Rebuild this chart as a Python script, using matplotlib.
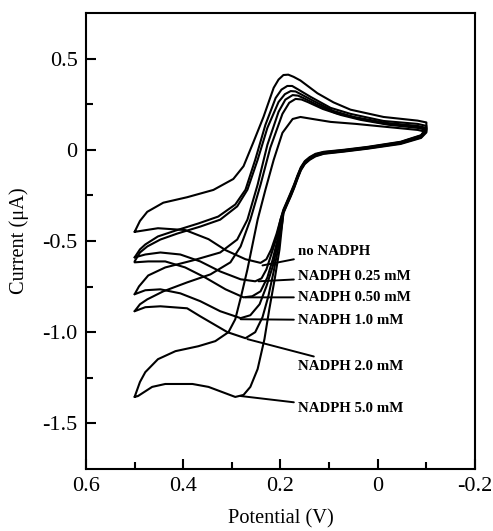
import matplotlib
matplotlib.use("Agg")
import matplotlib.pyplot as plt

plt.rcParams['font.family'] = ['Liberation Serif', 'DejaVu Serif']
plt.rcParams['axes.unicode_minus'] = False

labels = ['no NADPH', 'NADPH 0.25 mM', 'NADPH 0.50 mM',
          'NADPH 1.0 mM', 'NADPH 2.0 mM', 'NADPH 5.0 mM']

# forward sweep 0.5 V -> -0.1 V
v_fwd_0 = [0.50, 0.489, 0.474, 0.441, 0.392, 0.338, 0.297, 0.276, 0.256, 0.235,
           0.214, 0.204, 0.194, 0.184, 0.173, 0.159, 0.124, 0.091, 0.056, -0.012, -0.082, -0.10]
i_fwd_0 = [-0.45, -0.39, -0.34, -0.29, -0.26, -0.22, -0.16, -0.09, 0.04, 0.18,
           0.34, 0.385, 0.41, 0.412, 0.40, 0.38, 0.31, 0.26, 0.22, 0.18, 0.16, 0.15]
v_fwd_1 = [0.50, 0.489, 0.478, 0.452, 0.416, 0.369, 0.328, 0.293, 0.272, 0.252,
           0.231, 0.210, 0.198, 0.186, 0.176, 0.165, 0.138, 0.097, 0.056, -0.012, -0.082, -0.10]
i_fwd_1 = [-0.59, -0.546, -0.519, -0.475, -0.443, -0.404, -0.366, -0.30, -0.219, -0.055,
           0.137, 0.284, 0.33, 0.35, 0.35, 0.333, 0.29, 0.23, 0.197, 0.158, 0.142, 0.131]
v_fwd_2 = [0.50, 0.489, 0.474, 0.447, 0.412, 0.365, 0.324, 0.289, 0.268, 0.247,
           0.227, 0.204, 0.191, 0.179, 0.169, 0.159, 0.132, 0.091, 0.049, -0.016, -0.082, -0.10]
i_fwd_2 = [-0.612, -0.563, -0.53, -0.492, -0.459, -0.421, -0.383, -0.31, -0.219, -0.055,
           0.12, 0.262, 0.305, 0.322, 0.32, 0.306, 0.268, 0.213, 0.18, 0.148, 0.131, 0.12]
v_fwd_3 = [0.50, 0.491, 0.472, 0.437, 0.381, 0.324, 0.289, 0.268, 0.247, 0.227,
           0.204, 0.19, 0.175, 0.164, 0.153, 0.124, 0.087, 0.045, -0.016, -0.082, -0.10]
i_fwd_3 = [-0.792, -0.749, -0.689, -0.645, -0.607, -0.563, -0.492, -0.383, -0.191, 0.027,
           0.208, 0.275, 0.30, 0.297, 0.284, 0.246, 0.202, 0.175, 0.142, 0.126, 0.115]
v_fwd_4 = [0.50, 0.489, 0.474, 0.441, 0.392, 0.344, 0.303, 0.282, 0.262, 0.241,
           0.221, 0.196, 0.182, 0.169, 0.157, 0.144, 0.113, 0.076, 0.035, -0.023, -0.082, -0.10]
i_fwd_4 = [-0.885, -0.847, -0.82, -0.776, -0.727, -0.683, -0.617, -0.53, -0.383, -0.191,
           0.011, 0.197, 0.258, 0.279, 0.276, 0.262, 0.224, 0.191, 0.164, 0.137, 0.12, 0.109]
v_fwd_5 = [0.50, 0.489, 0.478, 0.452, 0.416, 0.369, 0.334, 0.307, 0.293, 0.280, 0.268,
           0.247, 0.231, 0.214, 0.196, 0.175, 0.159, 0.134, 0.097, 0.045, -0.016, -0.082, -0.10]
i_fwd_5 = [-1.355, -1.273, -1.219, -1.148, -1.104, -1.077, -1.049, -1.0, -0.929, -0.792, -0.656,
           -0.383, -0.219, -0.055, 0.093, 0.169, 0.18, 0.169, 0.153, 0.142, 0.126, 0.109, 0.098]

# reverse sweep -0.1 V -> 0.5 V
v_rev_0 = [-0.10, -0.089, -0.047, 0.021, 0.07, 0.111, 0.128, 0.14, 0.15, 0.158, 0.165,
           0.172, 0.179, 0.187, 0.194, 0.200, 0.208, 0.219, 0.229, 0.241, 0.272, 0.313,
           0.348, 0.396, 0.452, 0.50]
i_rev_0 = [0.12, 0.08, 0.044, 0.016, 0.0, -0.011, -0.022, -0.04, -0.062, -0.095, -0.14,
           -0.19, -0.235, -0.285, -0.328, -0.383, -0.46, -0.546, -0.60, -0.62, -0.60, -0.55,
           -0.49, -0.44, -0.43, -0.45]
v_rev_1 = [-0.10, -0.089, -0.047, 0.021, 0.07, 0.111, 0.128, 0.14, 0.15, 0.158, 0.165,
           0.172, 0.179, 0.187, 0.194, 0.200, 0.208, 0.219, 0.229, 0.239, 0.252, 0.282,
           0.324, 0.365, 0.406, 0.447, 0.478, 0.50]
i_rev_1 = [0.115, 0.078, 0.042, 0.014, -0.002, -0.013, -0.025, -0.043, -0.066, -0.099, -0.144,
           -0.194, -0.24, -0.29, -0.333, -0.383, -0.481, -0.574, -0.656, -0.705, -0.721, -0.71,
           -0.667, -0.612, -0.574, -0.563, -0.574, -0.59]
v_rev_2 = [-0.10, -0.089, -0.047, 0.021, 0.07, 0.111, 0.128, 0.14, 0.15, 0.158, 0.165,
           0.172, 0.179, 0.187, 0.194, 0.198, 0.206, 0.216, 0.227, 0.241, 0.258, 0.276,
           0.313, 0.355, 0.396, 0.437, 0.472, 0.50]
i_rev_2 = [0.11, 0.075, 0.04, 0.012, -0.004, -0.016, -0.028, -0.046, -0.069, -0.102, -0.148,
           -0.198, -0.244, -0.293, -0.337, -0.383, -0.492, -0.601, -0.70, -0.776, -0.803, -0.809,
           -0.765, -0.70, -0.645, -0.612, -0.612, -0.617]
v_rev_3 = [-0.10, -0.089, -0.047, 0.021, 0.07, 0.111, 0.128, 0.14, 0.15, 0.158, 0.165,
           0.172, 0.179, 0.187, 0.194, 0.198, 0.206, 0.216, 0.229, 0.243, 0.262, 0.282,
           0.324, 0.365, 0.406, 0.447, 0.478, 0.50]
i_rev_3 = [0.105, 0.072, 0.038, 0.01, -0.006, -0.018, -0.03, -0.049, -0.072, -0.105, -0.151,
           -0.202, -0.248, -0.296, -0.34, -0.393, -0.519, -0.64, -0.749, -0.847, -0.907, -0.923,
           -0.885, -0.83, -0.787, -0.765, -0.77, -0.792]
v_rev_4 = [-0.10, -0.089, -0.047, 0.021, 0.07, 0.111, 0.128, 0.14, 0.15, 0.158, 0.165,
           0.172, 0.179, 0.187, 0.194, 0.196, 0.204, 0.214, 0.225, 0.237, 0.252, 0.272,
           0.309, 0.365, 0.392, 0.447, 0.478, 0.50]
i_rev_4 = [0.10, 0.068, 0.035, 0.008, -0.008, -0.02, -0.033, -0.052, -0.075, -0.108, -0.155,
           -0.206, -0.252, -0.30, -0.344, -0.393, -0.53, -0.667, -0.803, -0.918, -1.0, -1.033,
           -1.0, -0.913, -0.869, -0.858, -0.863, -0.885]
v_rev_5 = [-0.10, -0.089, -0.047, 0.021, 0.07, 0.111, 0.128, 0.14, 0.15, 0.158, 0.165,
           0.172, 0.179, 0.187, 0.194, 0.196, 0.202, 0.212, 0.223, 0.233, 0.247, 0.262,
           0.276, 0.293, 0.348, 0.381, 0.437, 0.464, 0.493, 0.50]
i_rev_5 = [0.095, 0.065, 0.032, 0.006, -0.01, -0.022, -0.036, -0.055, -0.078, -0.112, -0.159,
           -0.21, -0.256, -0.304, -0.348, -0.393, -0.546, -0.71, -0.874, -1.038, -1.202, -1.30,
           -1.344, -1.355, -1.30, -1.284, -1.284, -1.30, -1.35, -1.355]

# where each label's leader line touches its curve, and where the label sits
tip_v = [0.237, 0.245, 0.272, 0.282, 0.268, 0.282]
tip_i = [-0.634, -0.721, -0.809, -0.929, -1.038, -1.35]
text_i = [-0.557, -0.694, -0.809, -0.934, -1.186, -1.421]

xticks = [0.6, 0.4, 0.2, 0, -0.2]
xtick_labels = ['0.6', '0.4', '0.2', '0', '-0.2']
yticks = [0.5, 0, -0.5, -1.0, -1.5]
ytick_labels = ['0.5', '0', '-0.5', '-1.0', '-1.5']

fwd = [(v_fwd_0, i_fwd_0), (v_fwd_1, i_fwd_1), (v_fwd_2, i_fwd_2),
       (v_fwd_3, i_fwd_3), (v_fwd_4, i_fwd_4), (v_fwd_5, i_fwd_5)]
rev = [(v_rev_0, i_rev_0), (v_rev_1, i_rev_1), (v_rev_2, i_rev_2),
       (v_rev_3, i_rev_3), (v_rev_4, i_rev_4), (v_rev_5, i_rev_5)]

fig = plt.figure(figsize=(4.93, 5.31), dpi=100)
ax = fig.add_axes([0.1744, 0.1168, 0.7891, 0.8587])

for (vf, cf), (vr, cr) in zip(fwd, rev):
    ax.plot(vf + vr, cf + cr, color='black', lw=1.5,
            solid_joinstyle='round', solid_capstyle='round')

for k, lab in enumerate(labels):
    ax.annotate(lab, xy=(tip_v[k], tip_i[k]), xytext=(0.164, text_i[k]),
                ha='left', va='center', fontsize=10.7, fontweight='bold',
                arrowprops=dict(arrowstyle='-', lw=1.4, color='black',
                                shrinkA=1, shrinkB=0))

ax.set_xlim(0.6, -0.2)
ax.set_ylim(-1.75, 0.75)
ax.set_xticks(xticks)
ax.set_xticklabels(xtick_labels)
ax.set_yticks(yticks)
ax.set_yticklabels(ytick_labels)
ax.set_xticks([0.5, 0.3, 0.1, -0.1], minor=True)
ax.set_yticks([0.25, -0.25, -0.75, -1.25], minor=True)
ax.tick_params(which='both', direction='in', labelsize=16, width=1.5)
ax.tick_params(which='major', length=7, pad=6)
ax.tick_params(which='minor', length=5)
for s in ax.spines.values():
    s.set_linewidth(1.5)

ax.set_xlabel('Potential (V)', fontsize=14.7, labelpad=9)
ax.set_ylabel('Current (μA)', fontsize=14.7, labelpad=10)

fig.savefig('out.png', dpi=100)
